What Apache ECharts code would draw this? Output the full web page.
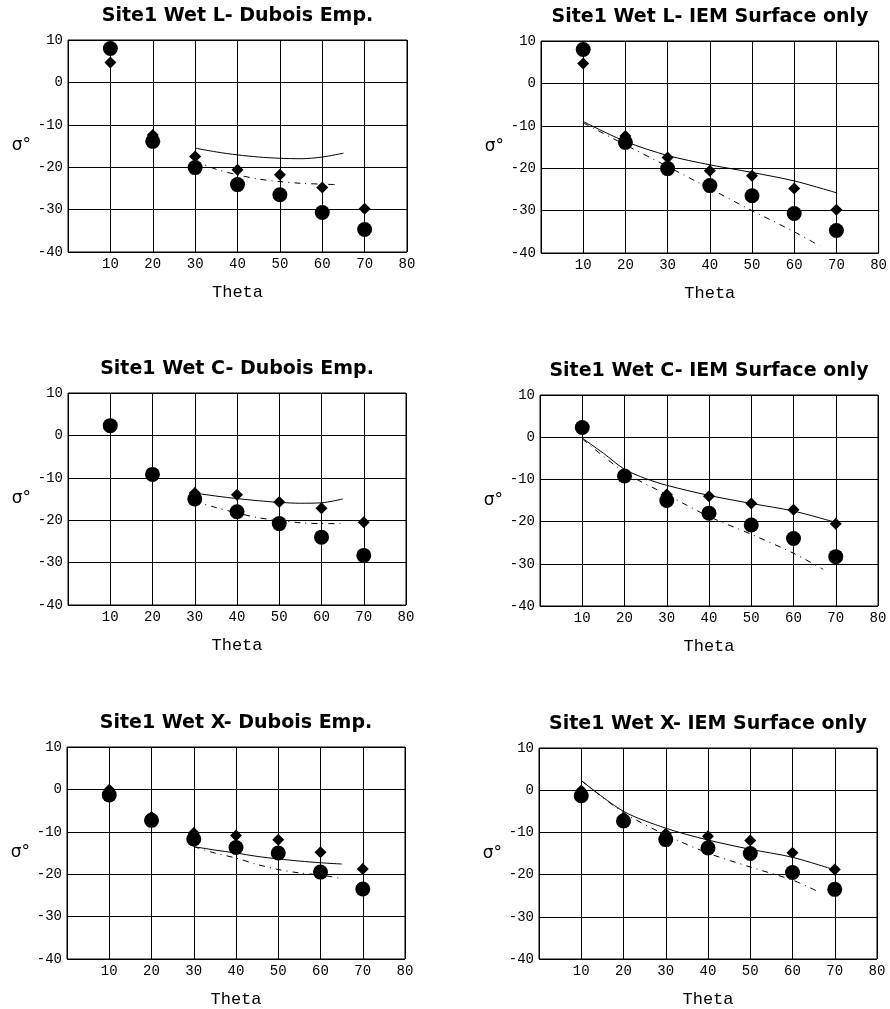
<!DOCTYPE html>
<html>
<head>
<meta charset="utf-8">
<script src="https://cdn.jsdelivr.net/npm/echarts@6/dist/echarts.min.js"></script>
<style>
  body { margin: 0; background: #fff; }
  #chart { width: 890px; height: 1009px; }
</style>
</head>
<body>
<div id="chart"></div>
<script>
// measured points (circles / diamonds) per band
const thetaPts = [10, 20, 30, 40, 50, 60, 70]
const circL = [8, -13.9, -20.1, -24.1, -26.5, -30.7, -34.7]
const diamL = [4.7, -12.4, -17.5, -20.6, -21.8, -24.8, -29.8]
const circC = [2.3, -9.2, -15, -18, -20.8, -24, -28.3]
const diamC = [2.3, -9.2, -13.6, -14, -15.7, -17.2, -20.5]
const circX = [-1.3, -7.3, -11.7, -13.7, -15, -19.5, -23.5]
const diamX = [-0.1, -6.5, -10.3, -10.9, -11.9, -14.8, -18.8]

// model curves
const duboisTheta = [30, 35, 40, 45, 50, 55, 60, 65]
const duboisThetaL2 = [30, 35, 40, 45, 50, 55, 60, 63]
const duboisL_solid = [-15.5, -16.4, -17.1, -17.6, -17.9, -18.0, -17.6, -16.7]
const duboisL_dot = [-18.6, -20.5, -21.8, -22.8, -23.4, -23.8, -24.0, -24.1]
const duboisC_solid = [-13.6, -14.3, -14.9, -15.4, -15.8, -16.0, -15.9, -15.0]
const duboisC_dot = [-15.6, -17.0, -18.3, -19.4, -20.1, -20.6, -20.8, -20.8]
const duboisX_solid = [-13.5, -14.3, -15.0, -15.8, -16.4, -16.9, -17.3, -17.6]
const duboisX_dot = [-13.5, -15.0, -16.2, -17.7, -18.9, -19.7, -20.2, -21.0]

const iemTheta = [10, 20, 30, 40, 50, 60, 70]
const iemThetaDot = [10, 20, 30, 40, 50, 60, 66]
const iemL_solid = [-9, -13.7, -17, -19.2, -21, -23, -25.8]
const iemL_dot = [-9.3, -14.5, -19.6, -24.8, -30.0, -35.0, -38.3]
const iemThetaC = [10, 15, 20, 25, 30, 40, 50, 60, 70]
const iemC_solid = [-0.2, -3.8, -7.6, -9.8, -11.4, -13.8, -15.7, -17.5, -20.2]
const iemThetaCDot = [10, 20, 30, 40, 50, 60, 67]
const iemC_dot = [-0.4, -8.3, -13.6, -18.8, -23, -27.5, -31.3]
const iemX_solid = [2.3, -5, -9, -11.8, -14, -15.9, -18.9]
const iemX_dot = [2.3, -5.3, -10.6, -14.9, -18.2, -21.3, -24]

const xTicks = [0, 80, 10]   // min, max, step
const yTicks = [-40, 10, 10]

function pairs(xs, ys) {
    return xs.map((x, i) => [x, ys[i]])
}

let panels = [
    { title: 'Site1 Wet L- Dubois Emp.', box: [68, 40, 339, 212], circ: circL, diam: diamL,
      solid: pairs(duboisTheta, duboisL_solid), dot: pairs(duboisThetaL2, duboisL_dot) },
    { title: 'Site1 Wet L- IEM Surface only', box: [541, 41, 338, 212], circ: circL, diam: diamL,
      solid: pairs(iemTheta, iemL_solid), dot: pairs(iemThetaDot, iemL_dot) },
    { title: 'Site1 Wet C- Dubois Emp.', box: [68, 393, 338, 212], circ: circC, diam: diamC,
      solid: pairs(duboisTheta, duboisC_solid), dot: pairs(duboisTheta, duboisC_dot) },
    { title: 'Site1 Wet C- IEM Surface only', box: [540, 395, 338, 211], circ: circC, diam: diamC,
      solid: pairs(iemThetaC, iemC_solid), dot: pairs(iemThetaCDot, iemC_dot) },
    { title: 'Site1 Wet X- Dubois Emp.', box: [67, 747, 338, 212], circ: circX, diam: diamX,
      solid: pairs(duboisTheta, duboisX_solid), dot: pairs(duboisTheta, duboisX_dot) },
    { title: 'Site1 Wet X- IEM Surface only', box: [539, 748, 338, 211], circ: circX, diam: diamX,
      solid: pairs(iemTheta, iemX_solid), dot: pairs(iemThetaDot, iemX_dot) }
]

let chart = echarts.init(document.getElementById('chart'))

let titles = [], grids = [], xAxes = [], yAxes = [], series = []
panels.forEach((p, i) => {
    let [l, t, w, h] = p.box
    titles.push({
        text: p.title,
        left: l + w / 2,
        top: t - 33,
        textAlign: 'center',
        padding: 0,
        textStyle: { fontFamily: 'DejaVu Sans', fontWeight: 'bold', fontSize: 19, color: '#000' }
    })
    grids.push({
        left: l, top: t, width: w, height: h,
        show: true, borderColor: '#000', borderWidth: 1, backgroundColor: 'transparent'
    })
    xAxes.push({
        gridIndex: i, type: 'value',
        min: xTicks[0], max: xTicks[1], interval: xTicks[2],
        name: 'Theta', nameLocation: 'middle', nameGap: 32,
        nameTextStyle: { fontFamily: 'Liberation Mono', fontSize: 17, color: '#000' },
        axisLine: { show: false }, axisTick: { show: false },
        axisLabel: {
            margin: 5, fontFamily: 'Liberation Mono', fontSize: 14, color: '#000',
            formatter: v => v === 0 ? '' : String(v)
        },
        splitLine: { show: true, lineStyle: { color: '#000', width: 1 } }
    })
    yAxes.push({
        gridIndex: i, type: 'value',
        min: yTicks[0], max: yTicks[1], interval: yTicks[2],
        name: 'σ°', nameLocation: 'middle', nameRotate: 0, nameGap: 37,
        nameTextStyle: { fontFamily: 'DejaVu Sans', fontSize: 17, color: '#000' },
        axisLine: { show: false }, axisTick: { show: false },
        axisLabel: { margin: 5, fontFamily: 'Liberation Mono', fontSize: 14, color: '#000' },
        splitLine: { show: true, lineStyle: { color: '#000', width: 1 } }
    })
    series.push({
        type: 'line', xAxisIndex: i, yAxisIndex: i, data: p.solid,
        showSymbol: false, smooth: 0.3, silent: true,
        lineStyle: { color: '#000', width: 1 }, z: 3
    })
    series.push({
        type: 'line', xAxisIndex: i, yAxisIndex: i, data: p.dot,
        showSymbol: false, smooth: 0.3, silent: true,
        lineStyle: { color: '#000', width: 1, type: [6, 5, 1, 5] }, z: 3
    })
    series.push({
        type: 'scatter', xAxisIndex: i, yAxisIndex: i, data: pairs(thetaPts, p.diam),
        symbol: 'diamond', symbolSize: 12, itemStyle: { color: '#000', opacity: 1 }, z: 4
    })
    series.push({
        type: 'scatter', xAxisIndex: i, yAxisIndex: i, data: pairs(thetaPts, p.circ),
        symbol: 'circle', symbolSize: 15, itemStyle: { color: '#000', opacity: 1 }, z: 5
    })
})

let options = {
    backgroundColor: '#fff',
    animation: false,
    title: titles,
    grid: grids,
    xAxis: xAxes,
    yAxis: yAxes,
    series: series
}
options && chart.setOption(options)
</script>
</body>
</html>
